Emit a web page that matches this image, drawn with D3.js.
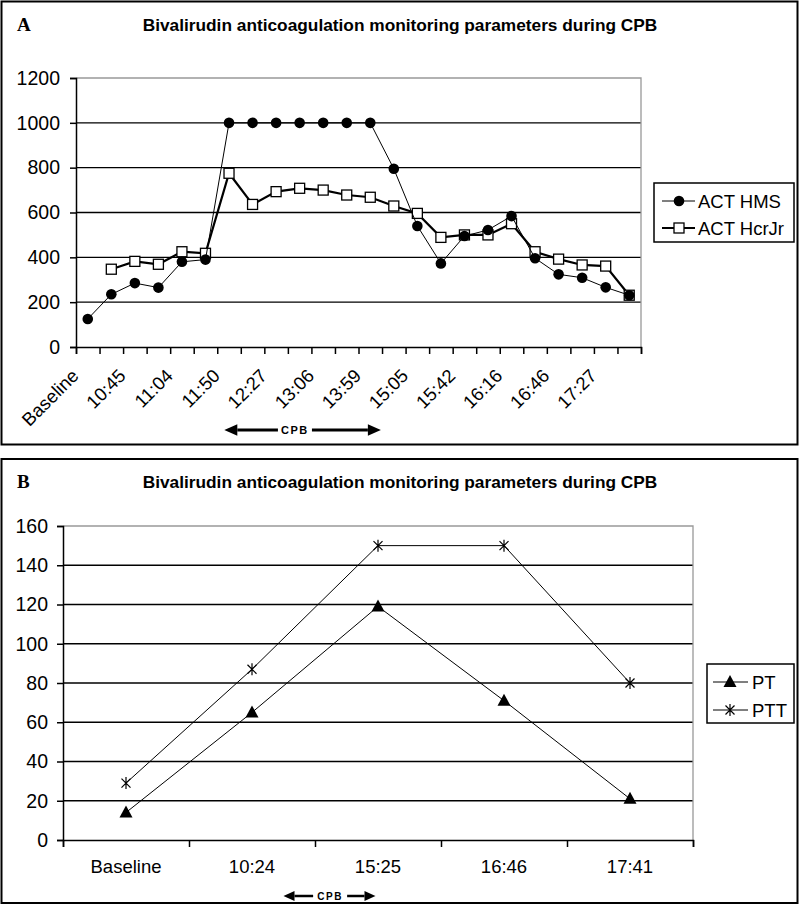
<!DOCTYPE html>
<html><head><meta charset="utf-8">
<script src="https://cdn.jsdelivr.net/npm/d3@7"></script>
<style>
body{margin:0;background:#fff;}
svg text{font-family:"Liberation Sans",Arial,sans-serif;fill:#000;}
</style></head>
<body><svg id="c" width="800" height="905"></svg>
<script>
// ---------- DATA ----------
const titleText = "Bivalirudin anticoagulation monitoring parameters during CPB";
// Panel A: 24 time points, only every other one labelled on the axis
const catsA = ["Baseline","","10:45","","11:04","","11:50","","12:27","","13:06","","13:59","","15:05","","15:42","","16:16","","16:46","","17:27",""];
const actHMS   = [125,235,285,265,380,390,1000,1000,1000,1000,1000,1000,1000,795,540,373,495,522,584,396,324,309,266,231];
const actHcrJr = [null,347,382,369,425,418,775,636,693,708,700,678,668,629,596,489,500,500,550,425,392,366,361,231];
const yTicksA = [0,200,400,600,800,1000,1200];
// Panel B
const catsB = ["Baseline","10:24","15:25","16:46","17:41"];
const pt  = [14,65,119,71,21];
const ptt = [29,87,150,150,80];
const yTicksB = [0,20,40,60,80,100,120,140,160];

const svg = d3.select("#c");

// panel frames
svg.append("rect").attr("x",1.5).attr("y",1.5).attr("width",796).attr("height",443).attr("fill","none").attr("stroke","#000").attr("stroke-width",2);
svg.append("rect").attr("x",1.5).attr("y",459).attr("width",796).attr("height",444).attr("fill","none").attr("stroke","#000").attr("stroke-width",2);

function header(g, letter, y){
  g.append("text").attr("x",17).attr("y",y).text(letter)
   .style("font-family","'Liberation Serif','Times New Roman',serif").style("font-weight","bold").style("font-size","19px");
  g.append("text").attr("x",400).attr("y",y).attr("text-anchor","middle").text(titleText)
   .style("font-weight","bold").style("font-size","17.3px");
}

function plotFrame(g, x0, x1, y, ticks, tickPad){
  g.selectAll(null).data(ticks.filter(t=>t>0 && t<ticks[ticks.length-1])).join("line")
    .attr("x1",x0).attr("x2",x1).attr("y1",d=>y(d)).attr("y2",d=>y(d))
    .attr("stroke","#000").attr("stroke-width",1.3);
  const top = y(ticks[ticks.length-1]);
  g.append("path").attr("d",`M${x0},${top}H${x1}V${y(0)}`).attr("fill","none").attr("stroke","#999").attr("stroke-width",1.3);
  const ax = g.append("g").attr("transform",`translate(${x0},0)`)
    .call(d3.axisLeft(y).tickValues(ticks).tickSize(6).tickPadding(tickPad).tickFormat(d3.format("d")));
  ax.attr("font-size","19.5px").attr("font-family","'Liberation Sans',Arial,sans-serif");
  ax.select(".domain").attr("stroke","#000").attr("stroke-width",1.5);
  ax.selectAll(".tick line").attr("stroke","#000").attr("stroke-width",1.5);
  ax.selectAll(".tick text").attr("font-size","19.5px").attr("fill","#000").style("font-size","19.5px");
}

function cpbArrow(g, xa, xb, yy, w, head, fs, tx){
  const gap = 17;
  g.append("line").attr("x1",xa+head).attr("x2",tx-gap).attr("y1",yy).attr("y2",yy).attr("stroke","#000").attr("stroke-width",w);
  g.append("line").attr("x1",tx+gap).attr("x2",xb-head).attr("y1",yy).attr("y2",yy).attr("stroke","#000").attr("stroke-width",w);
  g.append("path").attr("d",`M${xa},${yy}L${xa+head},${yy-head*0.45}L${xa+head},${yy+head*0.45}Z`);
  g.append("path").attr("d",`M${xb},${yy}L${xb-head},${yy-head*0.45}L${xb-head},${yy+head*0.45}Z`);
  g.append("text").attr("x",tx).attr("y",yy+fs*0.36).attr("text-anchor","middle").text("CPB")
    .style("font-size",fs+"px").style("font-weight","bold").style("letter-spacing","1.5px");
}

// ---------- PANEL A ----------
(function(){
  const g = svg.append("g");
  header(g,"A",31);
  const x0=76, x1=641;
  const xL = d3.scaleLinear().domain([0,catsA.length]).range([x0,x1]);
  const y = d3.scaleLinear().domain([0,1200]).range([347,78]);
  plotFrame(g,x0,x1,y,yTicksA,10);
  const xa = g.append("g").attr("transform",`translate(0,${y(0)})`)
    .call(d3.axisBottom(xL).tickValues(d3.range(catsA.length+1)).tickSize(7).tickFormat(""));
  xa.select(".domain").attr("stroke","#000").attr("stroke-width",1.5);
  xa.selectAll(".tick line").attr("stroke","#000").attr("stroke-width",1.5);
  g.selectAll(null).data(catsA.map((c,i)=>({c,i})).filter(d=>d.c)).join("text")
    .attr("text-anchor","end")
    .attr("transform",d=>`translate(${xL(d.i+0.5)-8},${y(0)+30}) rotate(-45)`)
    .text(d=>d.c).style("font-size","18.5px");

  const cx = i=>xL(i+0.5);
  const line = d3.line().defined(d=>d!=null).x((d,i)=>cx(i)).y(d=>y(d));
  g.append("path").attr("d",line(actHcrJr)).attr("fill","none").attr("stroke","#000").attr("stroke-width",2.2);
  g.selectAll(null).data(actHcrJr.map((v,i)=>({v,i})).filter(d=>d.v!=null)).join("rect")
    .attr("x",d=>cx(d.i)-5).attr("y",d=>y(d.v)-5).attr("width",10).attr("height",10)
    .attr("fill","#fff").attr("stroke","#000").attr("stroke-width",1.3);
  g.append("path").attr("d",line(actHMS)).attr("fill","none").attr("stroke","#000").attr("stroke-width",1);
  g.selectAll(null).data(actHMS.map((v,i)=>({v,i}))).join("circle")
    .attr("cx",d=>cx(d.i)).attr("cy",d=>y(d.v)).attr("r",5.3).attr("fill","#000");

  cpbArrow(g, xL(6.3), xL(12.95), 430, 3, 13, 11, xL(9.3));

  g.append("rect").attr("x",654).attr("y",183).attr("width",140).attr("height",59).attr("fill","#fff").attr("stroke","#000").attr("stroke-width",1.5);
  const l1=201, l2=228;
  g.append("line").attr("x1",662).attr("x2",695).attr("y1",l1).attr("y2",l1).attr("stroke","#000").attr("stroke-width",1);
  g.append("circle").attr("cx",679).attr("cy",l1).attr("r",5.3).attr("fill","#000");
  g.append("text").attr("x",698).attr("y",l1+6.5).text("ACT HMS").style("font-size","18.5px");
  g.append("line").attr("x1",662).attr("x2",695).attr("y1",l2).attr("y2",l2).attr("stroke","#000").attr("stroke-width",2.2);
  g.append("rect").attr("x",674).attr("y",l2-5).attr("width",10).attr("height",10).attr("fill","#fff").attr("stroke","#000").attr("stroke-width",1.3);
  g.append("text").attr("x",698).attr("y",l2+6.5).text("ACT HcrJr").style("font-size","18.5px");
})();

// ---------- PANEL B ----------
(function(){
  const g = svg.append("g");
  header(g,"B",488);
  const x0=63, x1=693;
  const x = d3.scaleBand().domain(catsB).range([x0,x1]).padding(0);
  const y = d3.scaleLinear().domain([0,160]).range([840,526]);
  plotFrame(g,x0,x1,y,yTicksB,9);
  const xL = d3.scaleLinear().domain([0,catsB.length]).range([x0,x1]);
  const xa = g.append("g").attr("transform",`translate(0,${y(0)})`)
    .call(d3.axisBottom(xL).tickValues(d3.range(catsB.length+1)).tickSize(7).tickFormat(""));
  xa.select(".domain").attr("stroke","#000").attr("stroke-width",1.5);
  xa.selectAll(".tick line").attr("stroke","#000").attr("stroke-width",1.5);
  g.selectAll(null).data(catsB).join("text")
    .attr("x",d=>x(d)+x.bandwidth()/2).attr("y",873).attr("text-anchor","middle")
    .text(d=>d).style("font-size","18.5px");

  const cx = d=>x(d)+x.bandwidth()/2;
  const line = d3.line().x((d,i)=>cx(catsB[i])).y(d=>y(d));
  const tri = "M0,-7L6.5,5L-6.5,5Z";
  const star = "M-4.5,-4.5L4.5,4.5M-4.5,4.5L4.5,-4.5M0,-6V6";
  g.append("path").attr("d",line(pt)).attr("fill","none").attr("stroke","#000").attr("stroke-width",1);
  g.selectAll(null).data(pt).join("path").attr("d",tri)
    .attr("transform",(d,i)=>`translate(${cx(catsB[i])},${y(d)})`).attr("fill","#000");
  g.append("path").attr("d",line(ptt)).attr("fill","none").attr("stroke","#000").attr("stroke-width",1);
  g.selectAll(null).data(ptt).join("path").attr("d",star)
    .attr("transform",(d,i)=>`translate(${cx(catsB[i])},${y(d)})`).attr("fill","none").attr("stroke","#000").attr("stroke-width",1.2);

  cpbArrow(g, xL(1.75), xL(2.48), 896, 2.5, 11, 10, xL(2.12));

  g.append("rect").attr("x",707).attr("y",664).attr("width",87).attr("height",59).attr("fill","#fff").attr("stroke","#000").attr("stroke-width",1.5);
  const l1=682, l2=710;
  g.append("line").attr("x1",713).attr("x2",748).attr("y1",l1).attr("y2",l1).attr("stroke","#000").attr("stroke-width",1);
  g.append("path").attr("d",tri).attr("transform",`translate(730,${l1})`).attr("fill","#000");
  g.append("text").attr("x",752).attr("y",l1+6.5).text("PT").style("font-size","18.5px");
  g.append("line").attr("x1",713).attr("x2",748).attr("y1",l2).attr("y2",l2).attr("stroke","#000").attr("stroke-width",1);
  g.append("path").attr("d",star).attr("transform",`translate(730,${l2})`).attr("fill","none").attr("stroke","#000").attr("stroke-width",1.2);
  g.append("text").attr("x",752).attr("y",l2+6.5).text("PTT").style("font-size","18.5px");
})();
</script></body></html>
